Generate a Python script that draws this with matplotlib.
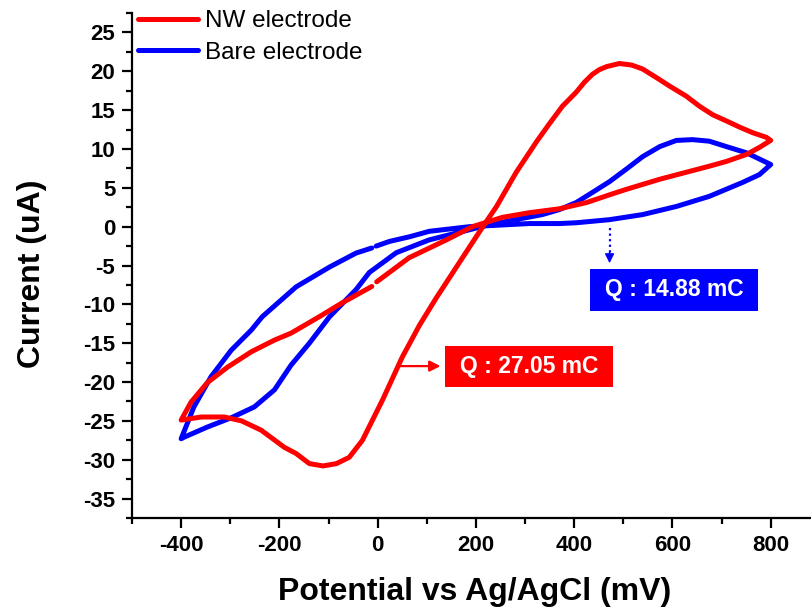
import matplotlib
matplotlib.use("Agg")
import matplotlib.pyplot as plt
from matplotlib.patches import Rectangle
from matplotlib.ticker import MultipleLocator

plt.rcParams['font.family'] = ['Liberation Sans', 'DejaVu Sans']
plt.rcParams['axes.unicode_minus'] = False

# Cyclic voltammograms (potential in mV vs Ag/AgCl, current in uA)
nw_potential = [-2, 64, 140, 193, 254, 309, 370, 425, 472, 506, 574, 628, 676, 710,
                751, 777, 800,
                791, 763, 737, 710, 682, 655, 628, 594, 567, 539, 517, 492, 466, 451, 437,
                421, 404, 376, 349, 323, 282, 242, 213, 183, 150, 119, 85, 50, 10, -31,
                -58, -84, -111, -139, -166, -190, -237, -277, -312, -359, -400,
                -380, -347, -306, -257, -210, -176, -119, -72, -12]
nw_current = [-7.1, -4.0, -1.7, 0.0, 1.2, 1.8, 2.3, 3.1, 4.1, 4.8, 6.1, 7.0, 7.8, 8.4,
              9.3, 10.2, 11.1,
              11.5, 12.1, 12.8, 13.6, 14.4, 15.5, 16.8, 18.1, 19.2, 20.3, 20.8, 21.0, 20.6, 20.2, 19.6,
              18.6, 17.3, 15.5, 13.2, 10.9, 7.0, 2.6, -0.1, -3.0, -6.2, -9.2, -12.7, -16.8, -22.3, -27.5,
              -29.7, -30.5, -30.8, -30.5, -29.2, -28.4, -26.2, -25.0, -24.5, -24.5, -24.9,
              -22.6, -20.1, -18.1, -16.1, -14.6, -13.7, -11.6, -9.8, -7.7]

bare_potential = [-3, 24, 65, 105, 187, 309, 370, 404, 472, 539, 608, 675, 743, 777, 800,
                  751, 710, 675, 641, 608, 574, 539, 506, 472, 437, 404, 370, 335, 227,
                  187, 105, 38, 10, -17, -44, -98, -139, -176, -210, -251, -298, -347,
                  -394, -400,
                  -374, -339, -298, -257, -235, -166, -98, -44, -12]
bare_current = [-2.5, -1.9, -1.3, -0.6, 0.0, 0.4, 0.4, 0.5, 0.9, 1.55, 2.6, 3.9, 5.7, 6.7, 8.0,
                9.5, 10.3, 11.0, 11.2, 11.1, 10.3, 9.0, 7.4, 5.8, 4.4, 3.1, 2.2, 1.55, 0.26,
                -0.4, -1.7, -3.35, -4.65, -5.9, -8.1, -11.6, -15.0, -17.8, -21.0, -23.2, -24.6, -25.8,
                -27.1, -27.3,
                -23.2, -19.3, -15.9, -13.3, -11.6, -7.75, -5.2, -3.4, -2.75]

series_labels = ["NW electrode", "Bare electrode"]
charge_labels = ["Q : 27.05 mC", "Q : 14.88 mC"]

RED = "#ff0000"
BLUE = "#0000ff"
LW = 3.6

fig = plt.figure(figsize=(8.11, 6.13), dpi=100)
W, H = 811, 613
ax = fig.add_axes([132 / W, (613 - 518) / H, (811 - 132) / W, (518 - 13) / H])

ax.plot(nw_potential, nw_current, color=RED, lw=LW, solid_capstyle='round',
        solid_joinstyle='round', label=series_labels[0], zorder=3)
ax.plot(bare_potential, bare_current, color=BLUE, lw=LW, solid_capstyle='round',
        solid_joinstyle='round', label=series_labels[1], zorder=2)

ax.set_xlim(-500, 882)
ax.set_ylim(-37.5, 27.5)

for side in ("top", "right"):
    ax.spines[side].set_visible(False)
for side in ("left", "bottom"):
    ax.spines[side].set_linewidth(1.6)

ax.xaxis.set_major_locator(MultipleLocator(200))
ax.xaxis.set_minor_locator(MultipleLocator(100))
ax.yaxis.set_major_locator(MultipleLocator(5))
ax.yaxis.set_minor_locator(MultipleLocator(2.5))
ax.set_xticks([-400, -200, 0, 200, 400, 600, 800])
ax.set_yticks(list(range(-35, 30, 5)))
ax.tick_params(which='major', direction='out', length=7, width=1.6, pad=5,
               labelsize=16)
ax.tick_params(which='minor', direction='out', length=4, width=1.6)
for lab in ax.get_xticklabels() + ax.get_yticklabels():
    lab.set_fontweight('bold')

ax.set_xlabel("Potential vs Ag/AgCl (mV)", fontsize=23, fontweight='bold')
ax.set_ylabel("Current (uA)", fontsize=23, fontweight='bold')
ax.xaxis.set_label_coords((475 - 132) / 679, -(577 - 518) / 505)
ax.yaxis.set_label_coords(-(132 - 47) / 679, (518 - 274) / 505)

leg = ax.legend(loc='upper left', bbox_to_anchor=(138 / W, 1 - 10 / H),
                bbox_transform=fig.transFigure, frameon=False, fontsize=17.5,
                handlelength=2.45, handletextpad=0.3, borderpad=0, borderaxespad=0,
                labelspacing=0.4)
for line in leg.get_lines():
    line.set_linewidth(LW)

# Charge annotations
ax.add_patch(Rectangle((138, -20.64), 342, 5.29, facecolor=RED, edgecolor='none', zorder=4))
ax.text(309, -18.0, charge_labels[0], color='white', fontsize=16.5, fontweight='bold',
        ha='center', va='center', zorder=5)
ax.annotate('', xy=(128, -17.95), xytext=(45, -17.95),
            arrowprops=dict(arrowstyle='-|>', color=RED, lw=1.6, mutation_scale=16,
                            shrinkA=0, shrinkB=0), zorder=4)

ax.add_patch(Rectangle((433, -10.83), 342, 5.42, facecolor=BLUE, edgecolor='none', zorder=4))
ax.text(604, -8.1, charge_labels[1], color='white', fontsize=16.5, fontweight='bold',
        ha='center', va='center', zorder=5)
ax.plot([472, 472], [-0.2, -3.4], color=BLUE, lw=1.6, ls=(0, (1, 1.5)), zorder=4)
ax.annotate('', xy=(472, -4.7), xytext=(472, -3.2),
            arrowprops=dict(arrowstyle='-|>', color=BLUE, lw=1.0, mutation_scale=14,
                            shrinkA=0, shrinkB=0), zorder=4)

fig.savefig("out.png", dpi=100)
